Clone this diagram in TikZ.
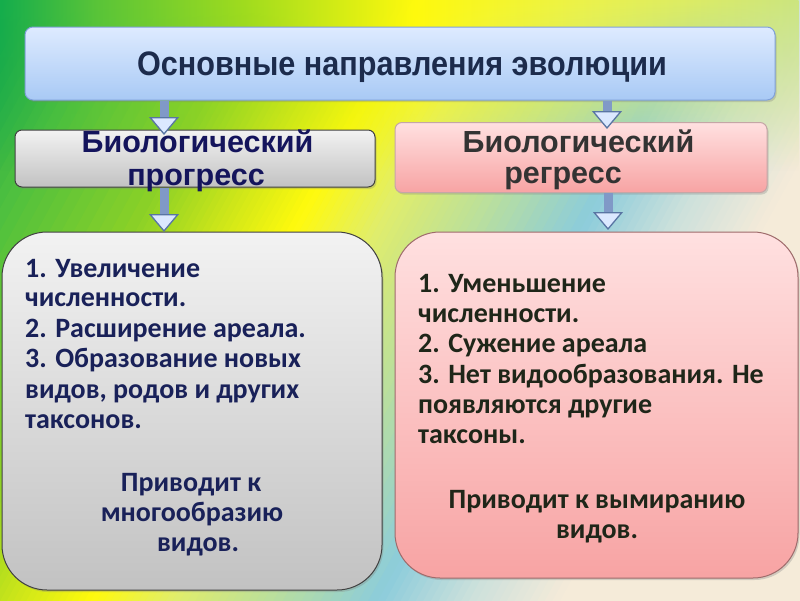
\documentclass[tikz,border=0pt]{standalone}
\usepackage{fontspec}
\setmainfont{Liberation Sans}
\newfontfamily\bodyfont{Carlito}
\newfontfamily\titlefont[FakeStretch=0.9]{Liberation Sans}
\usetikzlibrary{arrows.meta,shadows,fadings}

\definecolor{bg0}{rgb}{0.05,0.62,0.3}
\definecolor{bg1}{rgb}{0.3,0.75,0.25}
\definecolor{bg2}{rgb}{0.55,0.82,0.15}
\definecolor{bg3}{rgb}{0.8,0.9,0.1}
\definecolor{bg4}{rgb}{1,0.98,0.05}
\definecolor{bg5}{rgb}{0.88,0.93,0.42}
\definecolor{bg6}{rgb}{0.74,0.88,0.6}
\definecolor{bg7}{rgb}{0.55,0.8,0.86}
\definecolor{bg8}{rgb}{0.8,0.88,0.86}
\definecolor{bg9}{rgb}{0.96,0.92,0.85}

\definecolor{tp0}{rgb}{0.08,0.68,0.3}
\definecolor{tp1}{rgb}{0.35,0.77,0.22}
\definecolor{tp2}{rgb}{0.62,0.86,0.12}
\definecolor{tp3}{rgb}{1,0.98,0.05}
\definecolor{tp4}{rgb}{0.92,0.95,0.3}
\definecolor{tp5}{rgb}{0.8,0.9,0.5}
\pgfdeclarehorizontalshading{topstrip}{100bp}{
 color(0bp)=(tp0); color(25bp)=(tp0); color(31bp)=(tp1); color(40bp)=(tp2);
 color(51bp)=(tp3); color(62bp)=(tp4); color(75bp)=(tp5); color(100bp)=(tp5)}
\tikzfading[name=fadedown, top color=transparent!0, bottom color=transparent!100]

\definecolor{topA}{rgb}{0.87,0.92,1}
\definecolor{topB}{rgb}{0.66,0.79,0.96}
\definecolor{topE}{rgb}{0.5,0.63,0.85}
\definecolor{grA}{rgb}{0.95,0.95,0.95}
\definecolor{grB}{rgb}{0.76,0.76,0.76}
\definecolor{grE}{rgb}{0.25,0.25,0.25}
\definecolor{pkA}{rgb}{1,0.88,0.88}
\definecolor{pkB}{rgb}{0.97,0.64,0.64}
\definecolor{pkE}{rgb}{0.62,0.42,0.42}
\definecolor{arrShaft}{rgb}{0.5,0.6,0.78}
\definecolor{arrEdge}{rgb}{0.35,0.46,0.64}
\definecolor{arrFill}{rgb}{0.86,0.91,1}
\definecolor{titleC}{rgb}{0.11,0.17,0.3}
\definecolor{navyC}{rgb}{0.08,0.08,0.36}
\definecolor{grayC}{rgb}{0.2,0.2,0.2}
\definecolor{bodyL}{rgb}{0.1,0.13,0.35}
\definecolor{bodyR}{rgb}{0.12,0.15,0.1}

\tikzset{
 box/.style={inner sep=0pt, line width=1pt,
   drop shadow={shadow xshift=1.5pt, shadow yshift=-2pt, opacity=0.3}},
 bigarrow/.style={line width=9pt, draw=arrShaft,
   -{Triangle[width=30pt,length=18pt,fill=arrFill,color=arrEdge,line width=1.3pt]}},
 titletext/.style={inner sep=0pt, font=\titlefont\bfseries\fontsize{34}{38}\selectfont, text=titleC},
 midtext/.style={inner sep=0pt, font=\bfseries\fontsize{30.5}{34}\selectfont},
 bodytext/.style={inner sep=0pt, font=\bodyfont\bfseries\fontsize{28}{30}\selectfont},
}

\begin{document}
\begin{tikzpicture}[x=1pt,y=-1pt]
\useasboundingbox (0,0) rectangle (800,600);
% diagonal background gradient, built from thin strips
\begin{scope}
\clip (0,0) rectangle (800,600);
\foreach \pa/\pb/\ca/\cb in {-10/100/bg0/bg1, 100/230/bg1/bg2, 230/300/bg2/bg3,
   300/368/bg3/bg4, 368/440/bg4/bg5, 440/520/bg5/bg6, 520/620/bg6/bg7,
   620/700/bg7/bg8, 700/780/bg8/bg9, 780/1010/bg9/bg9}{
  \foreach \k in {0,...,11}{
    \pgfmathsetmacro\pz{\pa+(\pb-\pa)*\k/12}
    \pgfmathsetmacro\pw{\pa+(\pb-\pa)*(\k+1)/12+1.5}
    \pgfmathsetmacro\mix{100-100*(\k+0.5)/12}
    \fill[\ca!\mix!\cb]
      ({\pz*0.877-700*0.479},{\pz*0.479+700*0.877}) --
      ({\pz*0.877+700*0.479},{\pz*0.479-700*0.877}) --
      ({\pw*0.877+700*0.479},{\pw*0.479-700*0.877}) --
      ({\pw*0.877-700*0.479},{\pw*0.479+700*0.877}) -- cycle;
  }
}
\shade[shading=topstrip, path fading=fadedown] (0,0) rectangle (800,170);
\end{scope}

% boxes
\node[box, rounded corners=8pt, top color=topA, bottom color=topB, draw=topE,
  minimum width=750pt, minimum height=73pt] (top) at (400,63.5) {};
\node[box, rounded corners=7pt, top color=grA, bottom color=grB, draw=grE,
  minimum width=360pt, minimum height=57pt] (lp) at (195,158.5) {};
\node[box, rounded corners=7pt, top color=pkA, bottom color=pkB, draw=pkE!60,
  minimum width=372pt, minimum height=70pt] (rp) at (581,157.5) {};
\node[box, rounded corners=45pt, top color=grA, bottom color=grB, draw=grE,
  minimum width=380pt, minimum height=358pt] (lb) at (192,411) {};
\node[box, rounded corners=45pt, top color=pkA, bottom color=pkB, draw=pkE,
  minimum width=403pt, minimum height=346pt] (rb) at (596.5,405) {};

% arrows
\coordinate (a1) at (164,135);
\coordinate (a2) at (607,129);
\coordinate (a3) at (164,232);
\coordinate (a4) at (608,230);
\draw[bigarrow] (top.south -| a1) -- (a1);
\draw[bigarrow] (top.south -| a2) -- (a2);
\draw[bigarrow] (lp.south -| a3) -- (a3);
\draw[bigarrow] (rp.south -| a4) -- (a4);

% texts
\node[titletext, anchor=base] (ttl) at (402,75) {Основные направления эволюции};

\node[midtext, text=navyC, anchor=base] (lp1) at (197.5,152) {Биологический};
\node[midtext, text=navyC, anchor=base] (lp2) at (196,185) {прогресс};
\node[midtext, text=grayC, anchor=base] (rp1) at (578.5,152) {Биологический};
\node[midtext, text=grayC, anchor=base] (rp2) at (563,183) {регресс};

\begin{scope}[bodytext, text=bodyL]
\node[anchor=base west] (l1) at (25,277) {1. Увеличение};
\node[anchor=base west] (l2) at (25,306.5) {численности.};
\node[anchor=base west] (l3) at (25,337) {2. Расширение ареала.};
\node[anchor=base west] (l4) at (25,367.5) {3. Образование новых};
\node[anchor=base west] (l5) at (25,398) {видов, родов и других};
\node[anchor=base west] (l6) at (25,428.5) {таксонов.};
\node[anchor=base] (l7) at (191,491) {Приводит к};
\node[anchor=base] (l8) at (192,521) {многообразию};
\node[anchor=base] (l9) at (198,551) {видов.};
\end{scope}

\begin{scope}[bodytext, text=bodyR]
\node[anchor=base west] (r1) at (418,292) {1. Уменьшение};
\node[anchor=base west] (r2) at (418,322) {численности.};
\node[anchor=base west] (r3) at (418,352) {2. Сужение ареала};
\node[anchor=base west] (r4) at (418,383) {3. Нет видообразования. Не};
\node[anchor=base west] (r5) at (418,413) {появляются другие};
\node[anchor=base west] (r6) at (418,443) {таксоны.};
\node[anchor=base] (r7) at (597,508) {Приводит к вымиранию};
\node[anchor=base] (r8) at (597,538) {видов.};
\end{scope}
\end{tikzpicture}
\end{document}
